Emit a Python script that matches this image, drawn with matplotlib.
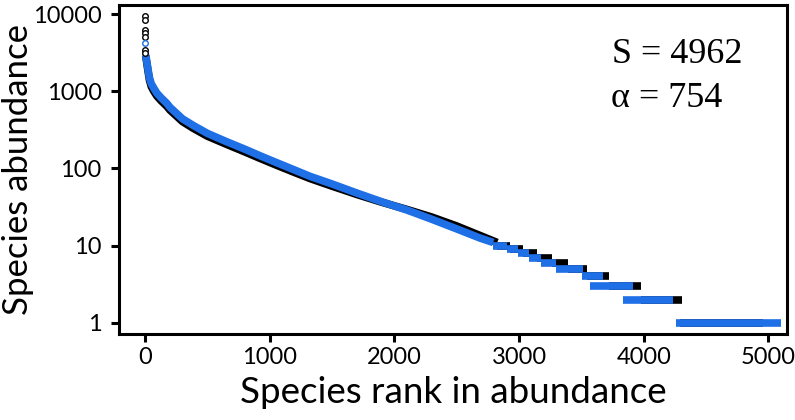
import matplotlib
matplotlib.use("Agg")
import matplotlib.pyplot as plt

# smooth head of each rank-abundance curve (rank, abundance)
black_rank = [5, 20, 35, 50, 70, 94, 130, 174, 200, 300, 388, 500, 655, 800, 923,
              1050, 1190, 1324, 1500, 1700, 1900, 2100, 2300, 2500, 2690, 2825]
black_abund = [2900, 2000, 1400, 1150, 1000, 870, 750, 640, 570, 405, 330, 262, 205, 164, 135,
               111, 90, 74, 59, 46, 36.5, 29.5, 23.5, 18, 13.5, 11]
blue_rank = [5, 20, 35, 50, 70, 94, 130, 174, 200, 300, 388, 500, 655, 800, 923,
             1050, 1190, 1324, 1500, 1700, 1900, 2100, 2300, 2500, 2690, 2793]
blue_abund = [2950, 2100, 1500, 1250, 1100, 950, 820, 700, 620, 440, 360, 285, 222, 178, 146,
              120, 97, 79, 63, 48, 37, 29, 22, 16.5, 12.5, 11]

# tail: one run of ranks per abundance value
step_abund = [10, 9, 8, 7, 6, 5, 4, 3, 2, 1]
black_start = [2825, 2930, 3034, 3146, 3266, 3395, 3547, 3724, 3980, 4290]
black_end = [2930, 3034, 3146, 3266, 3395, 3547, 3724, 3980, 4310, 4960]
blue_start = [2793, 2900, 2990, 3080, 3180, 3300, 3507, 3571, 3836, 4262]
blue_end = [2900, 2990, 3080, 3180, 3300, 3515, 3676, 3917, 4237, 5100]

# most abundant species, drawn as circles
top_black_rank = [3, 3, 3, 3, 3, 3, 3]
top_black_abund = [9500, 8360, 6210, 5630, 5080, 3420, 3130]
top_blue_rank = [3]
top_blue_abund = [4170]

blue = '#1f6fe6'
lw = 5.5

fig = plt.figure(figsize=(7.95, 4.2), dpi=100)
ax = fig.add_axes([0.1497, 0.205, 0.8403, 0.783])

ax.plot(black_rank, black_abund, color='black', lw=lw, solid_capstyle='butt')
ax.hlines(step_abund, black_start, black_end, color='black', lw=lw)
ax.plot(blue_rank, blue_abund, color=blue, lw=lw, solid_capstyle='butt')
ax.hlines(step_abund, blue_start, blue_end, color=blue, lw=lw)
ax.plot(top_black_rank, top_black_abund, 'o', mfc='white', mec='black', ms=4, mew=1)
ax.plot(top_blue_rank, top_blue_abund, 'o', mfc='white', mec=blue, ms=4, mew=1)

ax.set_yscale('log')
ax.set_xlim(-209, 5150)
ax.set_ylim(0.72, 13100)
ax.set_xticks([0, 1000, 2000, 3000, 4000, 5000])
ax.set_yticks([1, 10, 100, 1000, 10000])
ax.set_yticklabels(['1', '10', '100', '1000', '10000'])
ax.minorticks_off()

for s in ax.spines.values():
    s.set_linewidth(2.2)
ax.tick_params(width=2.2, length=5.5, labelsize=17)
ax.tick_params(axis='x', pad=4)
ax.tick_params(axis='y', pad=7)
for lab in ax.get_xticklabels() + ax.get_yticklabels():
    lab.set_family('Lato')

ax.set_xlabel('Species rank in abundance', fontsize=26.5, family='Lato', labelpad=6)
ax.set_ylabel('Species abundance', fontsize=25, family='Lato')
ax.yaxis.set_label_coords(-0.128, 0.5)

fig.text(0.770, 0.85, 'S = 4962', fontsize=26, family='Liberation Serif', va='baseline')
fig.text(0.768, 0.745, '\u03b1 = 754', fontsize=26, family='Liberation Serif', va='baseline')

fig.savefig('out.png', dpi=100)
